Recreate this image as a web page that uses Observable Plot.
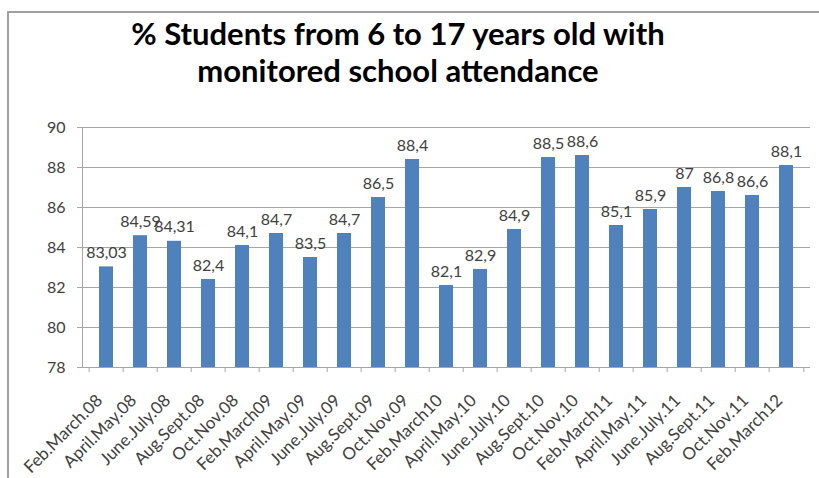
<!DOCTYPE html>
<html><head><meta charset="utf-8">
<script src="https://cdn.jsdelivr.net/npm/d3@7"></script>
<script src="https://cdn.jsdelivr.net/npm/@observablehq/plot@0.6"></script>
<style>
html,body{margin:0;padding:0;background:#fff;overflow:hidden;}
#wrap{position:relative;width:819px;height:478px;overflow:hidden;font-family:Lato,sans-serif;}
#frame{position:absolute;left:7px;top:11px;width:900px;height:600px;border-left:2px solid #a0a0a0;border-top:2px solid #a0a0a0;box-sizing:border-box;}
#title{position:absolute;left:0;width:796px;top:15px;text-align:center;font-weight:bold;font-size:31px;line-height:37px;color:#000;}
#chart{position:absolute;left:0;top:100px;}
</style></head><body>
<div id="wrap"><div id="frame"></div><div id="title">% Students from 6 to 17 years old with<br>monitored school attendance</div><div id="chart"></div></div>
<script>
const periods = ["Feb.March.08","April.May.08","June.July.08","Aug.Sept.08","Oct.Nov.08","Feb.March09","April.May.09","June.July.09","Aug.Sept.09","Oct.Nov.09","Feb.March10","April.May.10","June.July.10","Aug.Sept.10","Oct.Nov.10","Feb.March11","April.May.11","June.July.11","Aug.Sept.11","Oct.Nov.11","Feb.March12"];
const values = [83.03,84.59,84.31,82.4,84.1,84.7,83.5,84.7,86.5,88.4,82.1,82.9,84.9,88.5,88.6,85.1,85.9,87,86.8,86.6,88.1];
const yTicks = [78,80,82,84,86,88,90];

const W = 819, H = 378, mL = 82, mR = 9, mT = 27, mB = 111;
const n = periods.length;
const step = (W - mL - mR) / n;
const data = periods.map((p, i) => ({period: p, value: values[i]}));

const chart = Plot.plot({
  width: W, height: H, marginLeft: mL, marginRight: mR, marginTop: mT, marginBottom: mB,
  style: {fontFamily: "Lato, sans-serif", fontSize: "16px", color: "#404040", background: "transparent", overflow: "visible"},
  x: {domain: periods, paddingInner: 0.6, paddingOuter: 0.3, label: null, axis: null},
  y: {domain: [78, 90], label: null},
  marks: [
    Plot.gridY(yTicks, {stroke: "#a6a6a6", strokeOpacity: 1}),
    Plot.frame({anchor: "left", stroke: "#a6a6a6"}),
    Plot.axisY(yTicks, {tickSize: 5, tickPadding: 12, stroke: "#a6a6a6", fill: "#404040", fontSize: 16, label: null}),
    Plot.barY(data, {x: "period", y1: 78, y2: "value", fill: "#4f81bd"}),
    Plot.text(data, {x: "period", y: "value", text: d => String(d.value).replace(".", ","), dy: -9, lineAnchor: "bottom", fill: "#404040", fontSize: 16}),
    Plot.axisX({tickSize: 5, tickFormat: () => "", dx: -step / 2, stroke: "#a6a6a6"}),
    Plot.axisX([periods[n - 1]], {tickSize: 5, tickFormat: () => "", dx: step / 2, stroke: "#a6a6a6"}),
    Plot.text(periods, {x: d => d, frameAnchor: "bottom", rotate: -45, textAnchor: "end", dy: 34, dx: -3, fontSize: 17, fill: "#404040"})
  ]
});
document.getElementById("chart").appendChild(chart);
</script>
</body></html>
